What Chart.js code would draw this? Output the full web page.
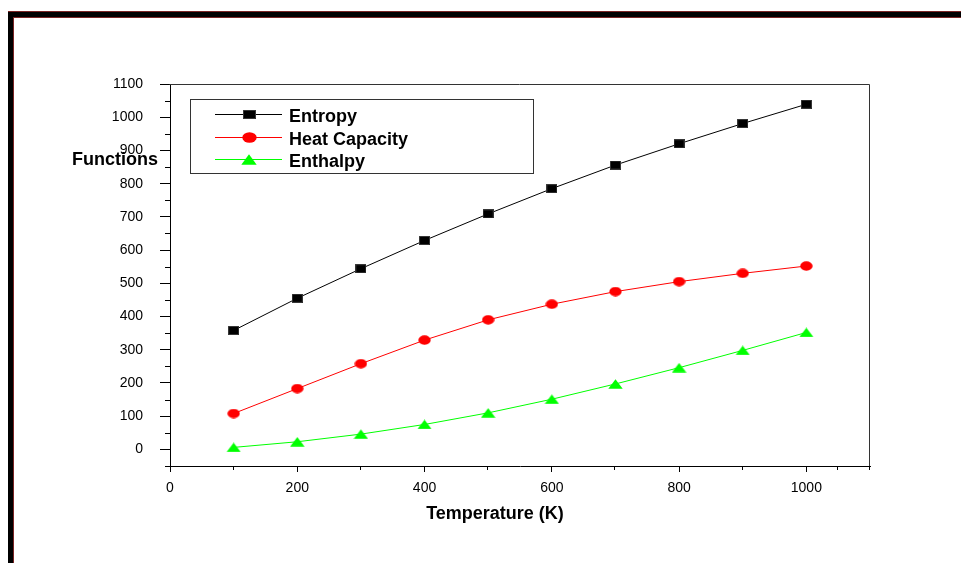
<!DOCTYPE html>
<html><head><meta charset="utf-8">
<script src="https://cdn.jsdelivr.net/npm/chart.js@4.4.1/dist/chart.umd.min.js"></script>
<style>html,body{margin:0;padding:0;background:#fff;overflow:hidden}#wrap{position:relative;width:961px;height:563px}canvas{display:block}</style>
</head><body><div id="wrap"><canvas id="c" width="961" height="563"></canvas></div>
<script>
const temperatures = [100, 200, 300, 400, 500, 600, 700, 800, 900, 1000];
const entropy = [358, 455, 544, 629, 709, 785, 856, 920, 981, 1039];
const heatCapacity = [108, 183, 258, 329, 390, 437, 475, 505, 530, 552];
const enthalpy = [6, 23, 46, 75, 110, 151, 197, 246, 298, 352];
const xTickLabels = [0, 200, 400, 600, 800, 1000];
const yTickLabels = [0, 100, 200, 300, 400, 500, 600, 700, 800, 900, 1000, 1100];
const seriesNames = ['Entropy', 'Heat Capacity', 'Enthalpy'];
const xTitle = 'Temperature (K)';
const yTitle = 'Functions';

const FONT = '"Liberation Sans", Arial, sans-serif';

function marker(type, color, w, h) {
  const c = document.createElement('canvas');
  const g = c.getContext('2d');
  c.width = w; c.height = h;
  g.fillStyle = color;
  if (type === 'square') {
    g.fillRect(0, 0, w, h);
    g.strokeStyle = '#444'; g.lineWidth = 0.8; g.strokeRect(0.5, 0.5, w - 1, h - 1);
  } else if (type === 'circle') {
    g.beginPath(); g.ellipse(w / 2, h / 2, w / 2 - 0.3, h / 2 - 0.3, 0, 0, Math.PI * 2); g.fill();
  } else {
    g.beginPath(); g.moveTo(w / 2, 0.3); g.lineTo(w - 0.3, h - 0.3); g.lineTo(0.3, h - 0.3); g.closePath(); g.fill();
  }
  return c;
}
const colors = ['#000000', '#ff0000', '#00ff00'];
const markers = [marker('square', '#000', 11, 9), marker('circle', '#ff0000', 13, 10), marker('triangle', '#00ff00', 15, 10)];
const legendMarkers = [marker('square', '#000', 13, 9), marker('circle', '#ff0000', 15, 11), marker('triangle', '#00ff00', 16, 11)];
const seriesData = [entropy, heatCapacity, enthalpy];

const datasets = seriesNames.map((name, i) => ({
  label: name,
  data: temperatures.map((t, j) => ({x: t, y: seriesData[i][j]})),
  borderColor: colors[i],
  backgroundColor: colors[i],
  borderWidth: 1,
  pointStyle: markers[i],
  pointRadius: 6,
  pointHoverRadius: 6,
  tension: 0,
  fill: false
}));

const decor = {
  id: 'decor',
  beforeDraw(chart) {
    const ctx = chart.ctx;
    ctx.save();
    ctx.fillStyle = '#7a2424';
    ctx.fillRect(8, 11, 953, 7);
    ctx.fillRect(8, 11, 6, 552);
    ctx.fillStyle = '#000';
    ctx.fillRect(8, 12, 953, 5);
    ctx.fillRect(8, 12, 5, 551);
    ctx.restore();
  },
  afterDraw(chart) {
    const ctx = chart.ctx;
    const a = chart.chartArea;
    const xs = chart.scales.x, ys = chart.scales.y;
    ctx.save();
    ctx.lineWidth = 1;
    ctx.strokeStyle = '#333';
    ctx.beginPath();
    ctx.moveTo(Math.round(a.left) - 0.5, Math.round(a.top) + 0.5);
    ctx.lineTo(Math.round(a.right) - 0.5, Math.round(a.top) + 0.5);
    ctx.lineTo(Math.round(a.right) - 0.5, Math.round(a.bottom));
    ctx.stroke();
    // minor ticks
    ctx.strokeStyle = '#000';
    ctx.beginPath();
    const yv = ys.ticks.map(t => t.value);
    const yMinor = [ys.min];
    for (let i = 0; i < yv.length - 1; i++) yMinor.push((yv[i] + yv[i + 1]) / 2);
    yMinor.forEach(v => {
      const p = Math.round(ys.getPixelForValue(v)) + 0.5;
      ctx.moveTo(a.left - 5, p); ctx.lineTo(a.left, p);
    });
    const xv = xs.ticks.map(t => t.value);
    const xMinor = [];
    for (let i = 0; i < xv.length - 1; i++) xMinor.push((xv[i] + xv[i + 1]) / 2);
    xMinor.push((xv[xv.length - 1] + xs.max) / 2);
    xMinor.push(xs.max);
    xMinor.forEach(v => {
      const p = Math.round(xs.getPixelForValue(v)) - 0.5;
      ctx.moveTo(p, a.bottom); ctx.lineTo(p, a.bottom + 4);
    });
    ctx.stroke();
    // axis titles
    ctx.fillStyle = '#000';
    ctx.font = 'bold 18px ' + FONT;
    ctx.textAlign = 'center';
    ctx.textBaseline = 'middle';
    ctx.fillText(xTitle, 495, 514);
    ctx.fillText(yTitle, 115, 160);
    // legend
    const lx = 190, ly = 99, lw = 343, lh = 74;
    ctx.strokeStyle = '#333';
    ctx.strokeRect(lx + 0.5, ly + 0.5, lw, lh);
    const rows = [114, 137, 159];
    chart.data.datasets.forEach((ds, i) => {
      const y = rows[i] + 0.5;
      ctx.strokeStyle = ds.borderColor;
      ctx.lineWidth = 1;
      ctx.beginPath(); ctx.moveTo(215, y); ctx.lineTo(282, y); ctx.stroke();
      const m = legendMarkers[i];
      ctx.drawImage(m, Math.round(249 - m.width / 2), Math.round(rows[i] - m.height / 2 + 0.5));
      ctx.fillStyle = '#000';
      ctx.textAlign = 'left';
      ctx.textBaseline = 'alphabetic';
      ctx.font = 'bold 18px ' + FONT;
      ctx.fillText(ds.label, 289, rows[i] + 8);
    });
    ctx.restore();
  }
};

new Chart(document.getElementById('c'), {
  type: 'line',
  data: {datasets},
  options: {
    responsive: false,
    animation: false,
    devicePixelRatio: 1,
    layout: {padding: {left: 0, right: 91, top: 84, bottom: 0}},
    plugins: {legend: {display: false}, tooltip: {enabled: false}, title: {display: false}},
    scales: {
      x: {
        type: 'linear', min: 0, max: 1100,
        afterBuildTicks: s => { s.ticks = xTickLabels.map(v => ({value: v})); },
        afterFit: s => { s.height = 97; },
        grid: {display: true, drawOnChartArea: false, drawTicks: true, tickLength: 6, color: '#000', tickColor: '#000'},
        border: {display: true, color: '#000', width: 1},
        ticks: {color: '#000', font: {family: FONT, size: 14}, padding: 8, maxRotation: 0, autoSkip: false,
                callback: v => String(v)}
      },
      y: {
        type: 'linear', min: -50, max: 1100,
        afterBuildTicks: s => { s.ticks = yTickLabels.map(v => ({value: v})); },
        afterFit: s => { s.width = 170; },
        grid: {display: true, drawOnChartArea: false, drawTicks: true, tickLength: 10, color: '#000', tickColor: '#000'},
        border: {display: true, color: '#000', width: 1},
        ticks: {color: '#000', font: {family: FONT, size: 14}, padding: 17, autoSkip: false,
                callback: v => String(v)}
      }
    }
  },
  plugins: [decor]
});
</script>
</body></html>
